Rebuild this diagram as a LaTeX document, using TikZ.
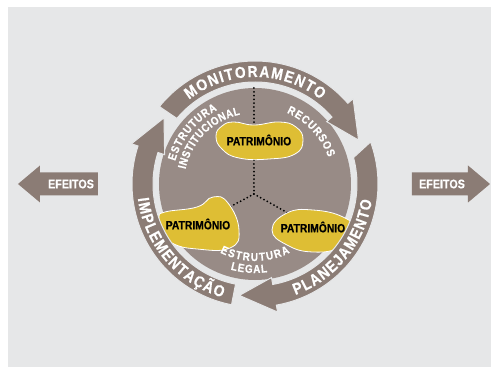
\documentclass[tikz,border=0pt]{standalone}
\usepackage{fontspec}
\setmainfont{Liberation Sans}[FakeStretch=0.86, BoldFeatures={FakeBold=0.6}]
\usetikzlibrary{decorations.text}
\definecolor{bgGray}{RGB}{230,231,232}
\definecolor{diskGray}{RGB}{152,139,134}
\definecolor{ringBrown}{RGB}{139,124,117}
\definecolor{patYellow}{RGB}{222,190,52}
\tikzset{
  ringarrow/.style={fill=ringBrown, draw=bgGray, line width=1pt},
  blob/.style={fill=patYellow, draw=white, line width=0.8pt},
  patlabel/.style={font=\bfseries\fontsize{12}{12}\selectfont, inner sep=0pt},
  effarrow/.style={fill=ringBrown},
  efflabel/.style={text=white, font=\bfseries\fontsize{12.5}{12.5}\selectfont, inner sep=0pt},
  dots/.style={line width=2pt, line cap=round, dash pattern=on 0pt off 3.8pt},
  arctext/.style={decorate, decoration={text along path, text align=fit to path, text={#1}}}
}
\newcommand{\ringtxt}{\color{white}\bfseries\fontsize{16}{16}\selectfont}
\newcommand{\innertxt}{\color{white}\bfseries\fontsize{11.5}{11.5}\selectfont}
% outer tail angle, inner tail angle, tip angle (clockwise)
\newcommand{\ringarrow}[3]{%
  \pgfmathsetmacro{\hb}{#3+18}
  \path[ringarrow] (#1:123) arc[start angle=#1, end angle=\hb, radius=123]
    -- (\hb:130) -- (#3:112.5) -- (\hb:95) -- (\hb:102)
    arc[start angle=\hb, end angle=#2, radius=102] -- cycle;}
\begin{document}
\begin{tikzpicture}[x=1pt, y=1pt]
\useasboundingbox (-255,-183) rectangle (236,184);
\fill[bgGray] (-247,-183) rectangle (236,177);

\fill[effarrow] (-237,0) -- (-215,18.5) -- (-215,11.5) -- (-157,11.5)
  -- (-157,-11.5) -- (-215,-11.5) -- (-215,-18.5) -- cycle;
\node[efflabel] (effL) at (-184,0) {EFEITOS};
\fill[effarrow] (235,0) -- (213,18.5) -- (213,11.5) -- (157,11.5)
  -- (157,-11.5) -- (213,-11.5) -- (213,-18.5) -- cycle;
\node[efflabel] (effR) at (187,0) {EFEITOS};

\fill[diskGray] (0,0) circle[radius=96];

\coordinate (dtop) at (-1,96);
\coordinate (hub) at (-1,-10);
\coordinate (patT) at (4,44);
\coordinate (patL) at (-57,-40);
\coordinate (patR) at (58,-43);
\draw[dots] (dtop) -- (hub);
\draw[dots] (hub) -- (patL);
\draw[dots] (hub) -- (patR);

\path[blob, shift={(patT)}] plot[smooth cycle, tension=0.8] coordinates
  {(-43,4) (-37,14) (-25,18) (-5,15) (20,18) (37,13) (44,0) (36,-14) (10,-19) (-20,-18) (-37,-9)};
\path[blob, shift={(patL)}] plot[smooth cycle, tension=0.8] coordinates
  {(-39,6) (-33,12) (-1,17) (15,27) (30,21) (41,-6) (32,-24) (-1,-25) (-26,-19) (-37,-6)};
\path[blob, shift={(patR)}] plot[smooth cycle, tension=0.8] coordinates
  {(-41,-3) (-26,14) (0,17) (30,10) (41,-3) (27,-20) (0,-25) (-26,-18)};
\node[patlabel] (patTlbl) at (patT) {PATRIMÔNIO};
\node[patlabel] (patLlbl) at (patL) {PATRIMÔNIO};
\node[patlabel] (patRlbl) at (patR) {PATRIMÔNIO};

\ringarrow{141}{140}{23}
\ringarrow{20}{15}{-98}
\ringarrow{259}{259}{144}

\path[arctext={|\ringtxt|MONITORAMENTO}] (128:107) arc[start angle=128, end angle=52, radius=107];
\path[arctext={|\ringtxt|PLANEJAMENTO}] (-70:118) arc[start angle=-70, end angle=-8, radius=118];
\path[arctext={|\ringtxt|IMPLEMENTAÇÃO}] (187:118) arc[start angle=187, end angle=254, radius=118];

\path[arctext={|\innertxt|ESTRUTURA}] (164:83) arc[start angle=164, end angle=117, radius=83];
\path[arctext={|\innertxt|INSTITUCIONAL}] (168:71) arc[start angle=168, end angle=102, radius=71];
\path[arctext={|\innertxt|RECURSOS}] (66:78) arc[start angle=66, end angle=20, radius=78];
\path[arctext={|\innertxt|ESTRUTURA}] (243:77) arc[start angle=243, end angle=297, radius=77];
\path[arctext={|\innertxt|LEGAL}] (254:89) arc[start angle=254, end angle=278, radius=89];
\end{tikzpicture}
\end{document}
